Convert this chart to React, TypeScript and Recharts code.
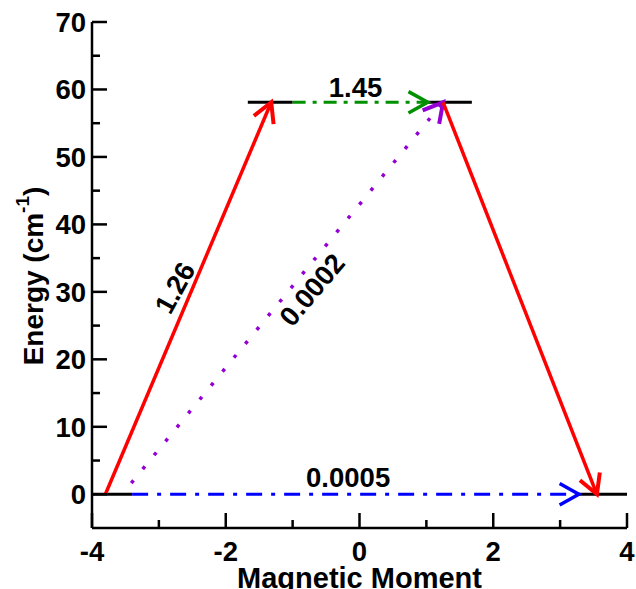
import React from 'react';
import { LineChart, Line, XAxis, YAxis, ReferenceLine, ReferenceDot } from 'recharts';

// axis ticks
const xTicks = [-4, -3, -2, -1, 0, 1, 2, 3, 4];
const xMajor = [-4, -2, 0, 2, 4];
const yTicks = [0, 5, 10, 15, 20, 25, 30, 35, 40, 45, 50, 55, 60, 65, 70];
const yMajor = [0, 10, 20, 30, 40, 50, 60, 70];

// energy levels (black)
const levelLowLeft = [{ x: -4, y: 0 }, { x: -3.4, y: 0 }];
const levelHighLeft = [{ x: -1.67, y: 58.1 }, { x: -1.0, y: 58.1 }];
const levelHighRight = [{ x: 0.97, y: 58.1 }, { x: 1.68, y: 58.1 }];
const levelLowRight = [{ x: 3.28, y: 0 }, { x: 4, y: 0 }];

// transitions (arrows)
const redUp = [{ x: -3.8, y: 0 }, { x: -1.32, y: 58.1 }];
const redDown = [{ x: 1.25, y: 58.1 }, { x: 3.55, y: 0 }];
const purpleUp = [{ x: -3.55, y: 0 }, { x: 1.25, y: 58.1 }];
const greenTop = [{ x: -1.0, y: 58.1 }, { x: 1.02, y: 58.1 }];
const blueBottom = [{ x: -3.4, y: 0 }, { x: 3.28, y: 0 }];

// transition labels
const labelTexts = ['1.26', '0.0002', '1.45', '0.0005'];
const labelX = [-2.76, -0.71, -0.06, -0.17];
const labelY = [30.6, 30.3, 60.3, 2.5];
const labelAngle = [-61, -50, 0, 0];

const FONT = '"Liberation Sans", Arial, Helvetica, sans-serif';
const TICK_FS = 27.5;

const makeArrow = (color: string, width: number, dash?: string, dashOffset = 0, headLen = 22) => (p: any) => {
  const { x1, y1, x2, y2 } = p;
  const ang = Math.atan2(y2 - y1, x2 - x1);
  const a = Math.PI / 6.2;
  const hx1 = x2 - headLen * Math.cos(ang - a);
  const hy1 = y2 - headLen * Math.sin(ang - a);
  const hx2 = x2 - headLen * Math.cos(ang + a);
  const hy2 = y2 - headLen * Math.sin(ang + a);
  return (
    <g>
      <line
        x1={x1}
        y1={y1}
        x2={x2}
        y2={y2}
        stroke={color}
        strokeWidth={width}
        strokeDasharray={dash}
        strokeDashoffset={dashOffset}
      />
      <polyline
        points={`${hx1},${hy1} ${x2},${y2} ${hx2},${hy2}`}
        fill="none"
        stroke={color}
        strokeWidth={width + 0.5}
        strokeLinejoin="miter"
      />
    </g>
  );
};

const BottomTick = (p: any) => {
  const { x, y, payload } = p;
  const major = xMajor.includes(payload.value);
  return (
    <g>
      <line x1={x} x2={x} y1={y} y2={y - (major ? 15 : 8)} stroke="#000" strokeWidth={2.5} />
      {major && (
        <text x={x} y={y + 33} textAnchor="middle" fontFamily={FONT} fontWeight="bold" fontSize={TICK_FS} fill="#000">
          {payload.value}
        </text>
      )}
    </g>
  );
};
const TopTick = (p: any) => {
  const { x, y, payload } = p;
  const major = xMajor.includes(payload.value);
  return <line x1={x} x2={x} y1={y} y2={y + (major ? 15 : 8)} stroke="#000" strokeWidth={2.5} />;
};
const LeftTick = (p: any) => {
  const { x, y, payload } = p;
  const major = yMajor.includes(payload.value);
  return (
    <g>
      <line x1={x} x2={x + (major ? 15 : 8)} y1={y} y2={y} stroke="#000" strokeWidth={2.5} />
      {major && (
        <text x={x - 6} y={y + 10} textAnchor="end" fontFamily={FONT} fontWeight="bold" fontSize={TICK_FS} fill="#000">
          {payload.value}
        </text>
      )}
    </g>
  );
};
const RightTick = (p: any) => {
  const { x, y, payload } = p;
  const major = yMajor.includes(payload.value);
  return <line x1={x} x2={x - (major ? 15 : 8)} y1={y} y2={y} stroke="#000" strokeWidth={2.5} />;
};

const YTitle = (props: any) => {
  const vb = props.viewBox || { x: 0, y: 22, width: 92, height: 506 };
  const cx = 33;
  const cy = vb.y + vb.height / 2 + 1;
  return (
    <text
      x={cx}
      y={cy}
      transform={`rotate(-90 ${cx} ${cy})`}
      textAnchor="middle"
      dominantBaseline="central"
      fontFamily={FONT}
      fontWeight="bold"
      fontSize={28}
      fill="#000"
    >
      Energy (cm
      <tspan fontSize={19} dy={-11}>-1</tspan>
      <tspan dy={11}>)</tspan>
    </text>
  );
};

const XTitle = (props: any) => {
  const vb = props.viewBox || { x: 92, y: 528, width: 535, height: 61 };
  return (
    <text
      x={vb.x + vb.width / 2}
      y={vb.y + 60}
      textAnchor="middle"
      fontFamily={FONT}
      fontWeight="bold"
      fontSize={29}
      fill="#000"
    >
      Magnetic Moment
    </text>
  );
};

const axisLineStyle = { stroke: '#000', strokeWidth: 2.5 };

export default function App() {
  return (
    <div style={{ position: 'absolute', left: 0, top: 0, background: '#fff' }}>
      <LineChart width={636} height={589} margin={{ top: 22, right: 9, bottom: 0, left: 0 }}>
        <XAxis
          xAxisId="b"
          type="number"
          dataKey="x"
          domain={[-4, 4]}
          ticks={xTicks}
          interval={0}
          height={61}
          tickSize={0}
          tickMargin={0}
          tickLine={false}
          tick={<BottomTick />}
          axisLine={axisLineStyle}
          label={{ content: (p: any) => <XTitle {...p} /> }}
        />
        <XAxis
          xAxisId="t"
          orientation="top"
          type="number"
          dataKey="x"
          domain={[-4, 4]}
          ticks={xTicks}
          interval={0}
          height={0}
          tickSize={0}
          tickMargin={0}
          tickLine={false}
          tick={<TopTick />}
          axisLine={axisLineStyle}
        />
        <YAxis
          yAxisId="l"
          type="number"
          domain={[-5, 70]}
          ticks={yTicks}
          interval={0}
          width={92}
          tickSize={0}
          tickMargin={0}
          tickLine={false}
          tick={<LeftTick />}
          axisLine={axisLineStyle}
          label={{ content: (p: any) => <YTitle {...p} /> }}
        />
        <YAxis
          yAxisId="r"
          orientation="right"
          type="number"
          domain={[-5, 70]}
          ticks={yTicks}
          interval={0}
          width={0}
          tickSize={0}
          tickMargin={0}
          tickLine={false}
          tick={<RightTick />}
          axisLine={axisLineStyle}
        />

        {[levelLowLeft, levelHighLeft, levelHighRight, levelLowRight].map((d, i) => (
          <Line
            key={`lvl${i}`}
            xAxisId="b"
            yAxisId="l"
            data={d}
            dataKey="y"
            stroke="#000"
            strokeWidth={3}
            dot={false}
            activeDot={false}
            isAnimationActive={false}
          />
        ))}

        <ReferenceLine xAxisId="b" yAxisId="l" segment={blueBottom} shape={makeArrow('#0000ff', 3, '16 9 4 9')} />
        <ReferenceLine xAxisId="b" yAxisId="l" segment={greenTop} shape={makeArrow('#009000', 3, '13 7 4 7')} />
        <ReferenceLine xAxisId="b" yAxisId="l" segment={purpleUp} shape={makeArrow('#9400d3', 3.5, '3.5 14.5', 3.5)} />
        <ReferenceLine xAxisId="b" yAxisId="l" segment={redUp} shape={makeArrow('#ff0000', 3.5)} />
        <ReferenceLine xAxisId="b" yAxisId="l" segment={redDown} shape={makeArrow('#ff0000', 3.5)} />

        {labelTexts.map((t, i) => (
          <ReferenceDot
            key={`lab${i}`}
            xAxisId="b"
            yAxisId="l"
            x={labelX[i]}
            y={labelY[i]}
            r={0}
            shape={(p: any) => (
              <text
                x={p.cx}
                y={p.cy}
                transform={`rotate(${labelAngle[i]} ${p.cx} ${p.cy})`}
                textAnchor="middle"
                dominantBaseline="central"
                fontFamily={FONT}
                fontWeight="bold"
                fontSize={27.5}
                fill="#000"
              >
                {t}
              </text>
            )}
          />
        ))}
      </LineChart>
    </div>
  );
}
